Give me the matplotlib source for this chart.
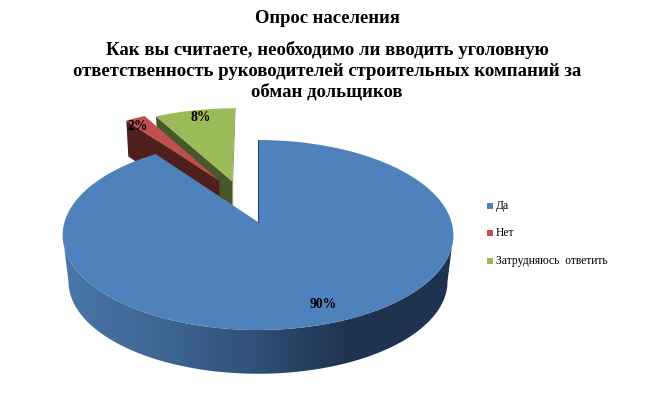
import numpy as np
import matplotlib
matplotlib.use('Agg')
import matplotlib.pyplot as plt
from matplotlib.colors import LinearSegmentedColormap
from matplotlib.patches import Polygon

# данные опроса
categories = ['Да', 'Нет', 'Затрудняюсь  ответить']
values = [90, 2, 8]
pct_labels = ['90%', '2%', '8%']
title_top = 'Опрос населения'
title_lines = ['Как вы считаете, необходимо ли вводить уголовную',
               'ответственность руководителей строительных компаний за',
               'обман дольщиков']

top_colors = ['#4f81bd', '#c0504d', '#9bbb59']
wall_colors = ['#1f3350', '#4f1f1d', '#48582a']

# смещение вынесенных секторов (в долях радиуса) и высота их стенки
explode = [(0.0, 0.0), (-0.212, 0.47), (-0.142, 0.465)]
cut_depth = 36

# параметры перспективы круговой диаграммы
CX, CY, RX, RY, K = 258, 222, 193.5, 93.2, 0.137
CY_BOT, SCALE_BOT = 269, 0.97


def project(u, v):
    w = 1 + K * v
    return CX + RX * u / w, CY - RY * v / w


def project_bottom(u, v):
    w = 1 + K * v
    return CX + RX * SCALE_BOT * u / w, CY_BOT - RY * SCALE_BOT * v / w


def rim(a0, a1, off=(0, 0), func=project, n=200):
    a = np.radians(np.linspace(a0, a1, n))
    return np.column_stack(func(off[0] + np.sin(a), off[1] + np.cos(a)))


fig = plt.figure(figsize=(6.54, 3.94), dpi=100)
ax = fig.add_axes([0, 0, 1, 1])
ax.axis('off')

# углы секторов по часовой стрелке от верхней точки
edges = np.concatenate([[0], np.cumsum(values)]) / sum(values) * 360

# сначала вынесенные сектора (зелёный, потом красный), большой сверху
for i in [2, 1]:
    a0, a1 = edges[i], edges[i + 1]
    off = explode[i]
    apex = np.array(project(*off))
    corner = rim(a0, a0, off, n=1)[0]
    wall = np.array([apex, corner,
                     [corner[0] + 2, corner[1] + cut_depth],
                     [apex[0], apex[1] + cut_depth]])
    ax.add_patch(Polygon(wall, closed=True, fc=wall_colors[i], ec='none', zorder=2))
    face = np.vstack([apex, rim(a0, a1, off)])
    ax.add_patch(Polygon(face, closed=True, fc=top_colors[i], ec='none', zorder=3))
    if i == 2:
        ax.plot([apex[0] + 0.5, apex[0] + 0.5, face[-1][0]],
                [apex[1] + cut_depth, apex[1], face[-1][1]],
                color='#77885a', lw=0.6, zorder=1)

# стенка большого сектора с горизонтальным градиентом
side = np.vstack([rim(98, 262), rim(262, 98, func=project_bottom)])
wall_patch = Polygon(side, closed=True, fc='none', ec='none', transform=ax.transData)
ax.add_patch(wall_patch)
grad_cmap = LinearSegmentedColormap.from_list('wall', [(0.0, '#4a76aa'), (0.25, '#3f6694'),
                                                       (0.5, '#2f4f76'), (0.72, '#1f3350'),
                                                       (1.0, '#1f3350')])
img = ax.imshow(np.linspace(0, 1, 256).reshape(1, -1), cmap=grad_cmap, aspect='auto',
                extent=(60, 458, 380, 230), zorder=4)
img.set_clip_path(wall_patch)

# верхняя грань большого сектора
face = np.vstack([[project(0, 0)], rim(edges[0], edges[1])])
ax.add_patch(Polygon(face, closed=True, fc=top_colors[0], ec='none', zorder=5))
ax.plot([CX, CX], [CY - RY / (1 + K), CY], color='#26405f', lw=0.7, zorder=6)

ax.set_xlim(0, 654)
ax.set_ylim(394, 0)

serif = 'Liberation Serif'

# заголовок
ax.text(327, 18, title_top, ha='center', va='center', family=serif,
        fontweight='bold', fontsize=13.4, zorder=10)
for text_line, y in zip(title_lines, [50, 71, 92]):
    ax.text(327, y, text_line, ha='center', va='center', family=serif,
            fontweight='bold', fontsize=13.5, zorder=10)

# подписи долей
label_pos = [(323, 304), (138, 126), (201, 117)]
for lab, (x, y) in zip(pct_labels, label_pos):
    ax.text(x, y, lab, ha='center', va='center', family=serif,
            fontweight='bold', fontsize=9.8, zorder=10)

# легенда
for name, col, y in zip(categories, top_colors, [206, 233, 261]):
    ax.scatter([490], [y], s=24, marker='s', color=col, linewidths=0, zorder=10)
    ax.text(496, y, name, ha='left', va='center', family=serif, fontsize=8.4, zorder=10)

fig.savefig('out.png', dpi=100)
